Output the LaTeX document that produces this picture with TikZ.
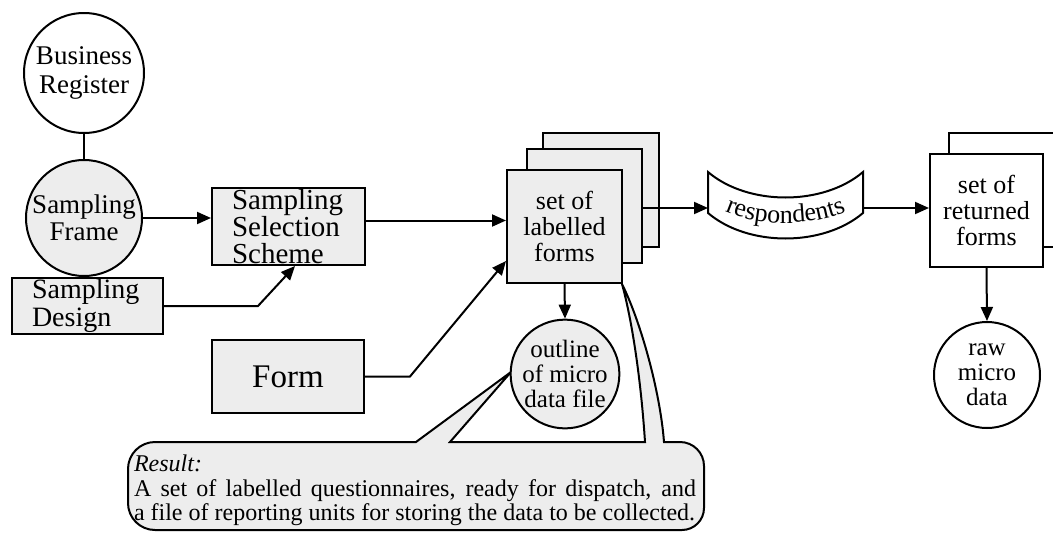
\documentclass[tikz,border=0pt]{standalone}
\usepackage{fontspec}
\setmainfont{Liberation Serif}
\usetikzlibrary{arrows.meta,decorations.text}
\definecolor{speck}{gray}{0.93}
\newcommand{\fsz}[2]{\fontsize{#1}{#2}\selectfont}
\tikzset{
  gbox/.style={draw, fill=speck, rectangle, inner ysep=0pt},
  wbox/.style={draw, fill=white, rectangle, inner sep=0pt},
  circ/.style={draw, circle, inner sep=0pt, align=center},
  arr/.style={-{Triangle[length=14pt,width=12pt]}},
}
\begin{document}
\begin{tikzpicture}[x=1pt,y=1pt,line width=2pt]
\useasboundingbox (0,0) rectangle (1053,-533);
\clip (0,0) rectangle (1053,-533);

% callout
\draw[fill=speck] (416,-442) -- (511,-372) -- (450,-442) -- (645,-442)
  .. controls (641,-380) and (632,-320) .. (622,-284)
  .. controls (640,-320) and (660,-390) .. (664,-442)
  -- (680,-442) arc[start angle=90,end angle=0,radius=24]
  -- (704,-508) arc[start angle=0,end angle=-90,radius=22]
  -- (155,-530) arc[start angle=270,end angle=180,radius=27]
  -- (128,-469) arc[start angle=180,end angle=90,radius=27] -- cycle;
\node[anchor=north west, inner sep=0pt, align=left, font=\fsz{24}{24.5}] (res) at (133,-454)
  {\textit{Result:}\\\makebox[562pt][s]{A set of labelled questionnaires, ready for dispatch, and}\\a file of reporting units for storing the data to be collected.};

% left part
\node[circ, fill=white, minimum size=120pt, font=\fsz{27}{29}] (bus) at (84,-73) {Business\\Register};
\node[circ, fill=speck, minimum size=116pt, font=\fsz{27}{27}] (frame) at (84,-218) {Sampling\\Frame};
\node[gbox, minimum width=153pt, minimum height=77pt, text width=113pt, inner xsep=20pt, align=left, font=\fsz{29}{27}] (scheme) at (288.5,-226.5) {Sampling\\Selection\\Scheme};
\node[gbox, minimum width=151pt, minimum height=56pt, text width=111pt, inner xsep=20pt, align=left, font=\fsz{28}{28}] (design) at (87.5,-306) {Sampling\\Design};
\node[gbox, minimum width=152pt, minimum height=73pt, inner xsep=0pt, font=\fsz{33}{33}] (form) at (288,-376.5) {Form};

% labelled forms stack
\node[gbox, minimum width=116pt, minimum height=114pt] (lab3) at (601,-190) {};
\node[gbox, minimum width=115pt, minimum height=114pt] (lab2) at (584.5,-206) {};
\node[gbox, minimum width=115pt, minimum height=113pt, align=center, font=\fsz{26}{26}] (lab1) at (564.5,-226.5) {set of\\labelled\\forms};
\node[circ, fill=speck, minimum size=106pt, font=\fsz{25}{25}] (outline) at (565,-374) {outline\\of micro\\data file};

% respondents banner
\draw[fill=white] (708,-172) .. controls (748,-206) and (823,-206) .. (863,-172)
  -- (863,-213) .. controls (823,-247) and (748,-247) .. (708,-213) -- cycle;
\coordinate (respw) at (708,-208);
\coordinate (respe) at (863,-208);
\path[decorate, decoration={text along path, text={|\fsz{26}{26}|respondents}, text align=center}]
  (712,-205) .. controls (752,-229) and (820,-229) .. (859,-205);

% returned forms
\node[wbox, minimum width=121pt, minimum height=114pt] (ret2) at (1009.5,-190) {};
\node[wbox, minimum width=113pt, minimum height=113pt, align=center, font=\fsz{26}{26}] (ret) at (986.5,-210.5) {set of\\returned\\forms};
\node[circ, fill=white, minimum size=106pt, font=\fsz{25}{25}] (raw) at (987,-375) {raw\\micro\\data};

% connectors
\draw (bus.south) -- (frame.north);
\draw[arr] (frame.east) -- (frame.east -| scheme.west);
\draw[arr] (design.east) -- ++(94,0) -- ([xshift=84pt]scheme.south west);
\draw[arr] ([yshift=6pt]scheme.east) -- ([yshift=6pt]scheme.east -| lab1.west);
\draw[arr] (form.east) -- ++(45,0) -- ([yshift=23pt]lab1.south west);
\draw[arr] (lab1.south) -- (outline.north);
\draw[arr] (lab2.east |- respw) -- (respw);
\draw[arr] (respe) -- (respe -| ret.west);
\draw[arr] (ret.south) -- (raw.north);
\end{tikzpicture}
\end{document}
